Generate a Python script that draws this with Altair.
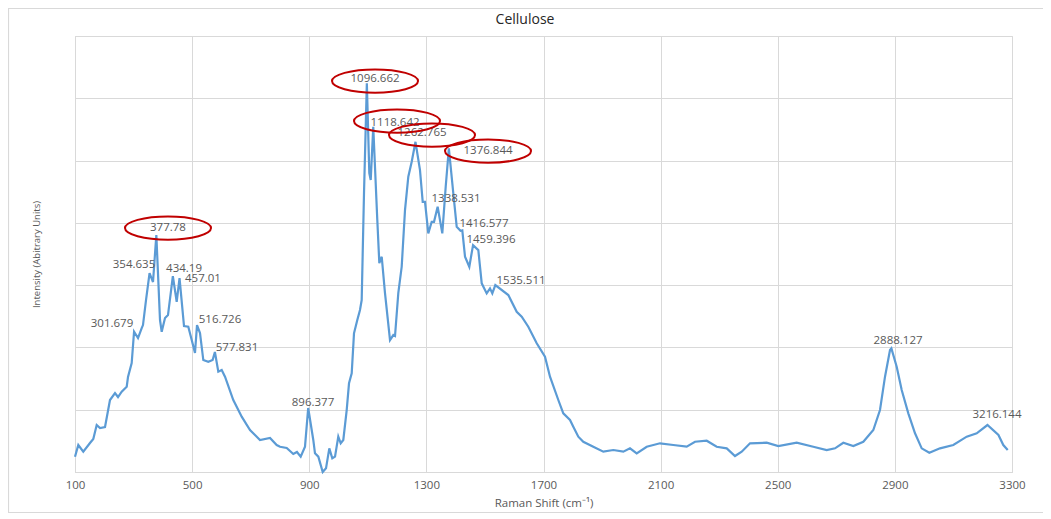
import altair as alt
import pandas as pd

# ---- spectrum ----
raman_shift = [100, 111.3, 128.3, 151.2, 162.5, 174.1, 185.4, 202.5, 219.5, 236.6, 246.9, 259.5,
               276.6, 281, 293.6, 301.7, 315.2, 327.8, 332.2, 342.5, 354.6, 366.4, 377.8, 390.3,
               396.1, 407.4, 417.6, 434.2, 447.3, 457.0, 472.3, 486.9, 498.6, 509.8, 516.7, 526.9,
               538.2, 555.2, 570, 577.8, 589.4, 601, 612.3, 640.6, 669.3, 697.7, 731.8, 766, 788.8,
               800.1, 823, 845.5, 858, 870.8, 885.5, 896.4, 913.8, 919.6, 931, 946, 957.2, 968.5,
               978.7, 988, 999.2, 1007.4, 1016.3, 1027.9, 1035.8, 1045, 1052.8, 1064.1, 1073.3,
               1079.1, 1087, 1096.7, 1105.1, 1109.9, 1118.6, 1132.4, 1139.3, 1147.5, 1158.7, 1175.8,
               1187.1, 1192.9, 1204.1, 1215.7, 1227, 1238.3, 1249.9, 1262.8, 1278.2, 1287.5, 1295.3,
               1306.6, 1318.2, 1326.1, 1338.5, 1354.4, 1366, 1376.8, 1392, 1403.6, 1416.6, 1422.7,
               1432, 1446.6, 1459.4, 1477.4, 1489, 1506, 1517.3, 1525.2, 1535.5, 1579.8, 1608.5,
               1625.6, 1648.1, 1676.8, 1705.1, 1722.2, 1750.6, 1767.6, 1790.5, 1801.8, 1818.9,
               1835.9, 1870.1, 1904.3, 1938.4, 1972.6, 1995.4, 2018.3, 2052.5, 2097.9, 2143.3,
               2189.1, 2217.4, 2257.4, 2291.5, 2325.7, 2354, 2376.9, 2405.3, 2462.3, 2501.9, 2564.7,
               2621.4, 2667.2, 2695.6, 2723.9, 2758.1, 2792.2, 2826.4, 2849.2, 2866.3, 2883.4,
               2888.1, 2906.2, 2923.3, 2945.9, 2968.8, 2991.6, 3017.6, 3054.1, 3099.6, 3145.3,
               3179.5, 3216.1, 3253.7, 3270.3, 3285.4]
intensity = [0.246, 0.433, 0.326, 0.465, 0.530, 0.754, 0.706, 0.722, 1.156, 1.268, 1.204, 1.289,
             1.369, 1.525, 1.749, 2.252, 2.151, 2.311, 2.359, 2.761, 3.194, 3.050, 3.804, 2.440,
             2.252, 2.472, 2.520, 3.146, 2.733, 3.114, 2.343, 2.332, 2.119, 1.910, 2.359, 2.231,
             1.798, 1.770, 1.798, 1.926, 1.610, 1.637, 1.530, 1.156, 0.888, 0.674, 0.514, 0.546,
             0.433, 0.406, 0.385, 0.289, 0.321, 0.246, 0.406, 1.027, 0.514, 0.300, 0.246, 0.0,
             0.059, 0.380, 0.220, 0.246, 0.567, 0.461, 0.514, 0.995, 1.424, 1.584, 2.226, 2.440,
             2.600, 2.761, 4.478, 6.239, 4.799, 4.687, 5.542, 4.045, 3.354, 3.456, 2.873, 2.119,
             2.199, 2.183, 2.873, 3.295, 4.205, 4.740, 4.980, 5.301, 4.847, 4.338, 4.338, 3.831,
             4.017, 4.017, 4.258, 3.831, 4.579, 5.195, 4.473, 3.937, 3.873, 3.879, 3.456, 3.295,
             3.643, 3.563, 3.029, 2.868, 2.948, 2.868, 3.001, 2.841, 2.573, 2.493, 2.332, 2.066,
             1.851, 1.530, 1.156, 0.942, 0.835, 0.727, 0.567, 0.486, 0.406, 0.326, 0.353, 0.326,
             0.380, 0.300, 0.406, 0.461, 0.433, 0.406, 0.486, 0.502, 0.406, 0.380, 0.257, 0.326,
             0.461, 0.470, 0.417, 0.470, 0.406, 0.353, 0.380, 0.470, 0.417, 0.486, 0.674, 0.995,
             1.530, 1.958, 1.985, 1.690, 1.316, 0.942, 0.621, 0.380, 0.310, 0.380, 0.433, 0.567,
             0.621, 0.754, 0.594, 0.433, 0.353]

# ---- peak labels ----
peak_labels = ["301.679", "354.635", "377.78", "434.19", "457.01", "516.726", "577.831",
               "896.377", "1096.662", "1118.642", "1262.765", "1376.844", "1338.531",
               "1416.577", "1459.396", "1535.511", "2888.127", "3216.144"]
label_x = [226.4, 301.5, 417.6, 472.3, 537.1, 595.2, 653.3, 912.8, 1124.6, 1192.9, 1285.1,
           1510.5, 1401.2, 1496.8, 1520.7, 1623.2, 2910.7, 3248.8]
label_y = [2.375, 3.322, 3.916, 3.258, 3.098, 2.440, 1.990, 1.107, 6.308, 5.601, 5.441,
           5.152, 4.382, 3.980, 3.724, 3.066, 2.103, 0.915]

# ---- circled peaks (ellipse centres) ----
circled_x = [417.6, 1124.6, 1199.7, 1319.2, 1510.5]
circled_y = [3.916, 6.276, 5.634, 5.409, 5.152]

x_ticks = [100, 500, 900, 1300, 1700, 2100, 2500, 2900, 3300]
y_grid = [0, 1, 2, 3, 4, 5, 6, 7]
chart_title = "Cellulose"

FONT = "Open Sans"
GREY = "#595959"
GRID = "#D9D9D9"

spec_df = pd.DataFrame({"shift": raman_shift, "intensity": intensity})
lab_df = pd.DataFrame({"shift": label_x, "intensity": label_y, "label": peak_labels})
ell_df = pd.DataFrame({"shift": circled_x, "intensity": circled_y})

xscale = alt.Scale(domain=[100, 3300], nice=False, zero=False)
yscale = alt.Scale(domain=[0, 7], nice=False, zero=True)

line = alt.Chart(spec_df).mark_line(color="#5B9BD5", strokeWidth=2.2).encode(
    x=alt.X("shift:Q", scale=xscale,
            axis=alt.Axis(values=x_ticks, format="d", title="Raman Shift (cm⁻¹)", grid=True,
                          gridColor=GRID, domain=True, domainColor=GRID, ticks=False,
                          labelPadding=7, labelFont=FONT, labelFontSize=11.5,
                          labelColor=GREY, titleFont=FONT, titleFontSize=11.5,
                          titleFontWeight="normal", titleColor=GREY, titlePadding=7,
                          labelFlush=False)),
    y=alt.Y("intensity:Q", scale=yscale,
            axis=alt.Axis(values=y_grid, title="Intensity (Abitrary Units)", grid=True,
                          gridColor=GRID, labels=False, ticks=False, domain=True,
                          domainColor=GRID, titleFont=FONT, titleFontSize=9.5,
                          titleFontWeight="normal", titleColor=GREY, titlePadding=34)),
)

labels = alt.Chart(lab_df).mark_text(font=FONT, fontSize=11.5, color=GREY,
                                     align="center", baseline="middle").encode(
    x=alt.X("shift:Q", scale=xscale),
    y=alt.Y("intensity:Q", scale=yscale),
    text="label:N",
)

ellipse_path = "M -1 0 A 1 0.27 0 1 1 1 0 A 1 0.27 0 1 1 -1 0 Z"
ellipses = alt.Chart(ell_df).mark_point(shape=ellipse_path, size=7400, filled=False,
                                        stroke="#C00000", strokeWidth=2, opacity=1).encode(
    x=alt.X("shift:Q", scale=xscale),
    y=alt.Y("intensity:Q", scale=yscale),
)

title = alt.Chart(pd.DataFrame({"t": [chart_title]})).mark_text(
    font=FONT, fontSize=14, color="#262626", align="center", baseline="middle").encode(
    x=alt.value(450), y=alt.value(-16), text="t:N")

frame = alt.Chart(pd.DataFrame({"a": [0]})).mark_rect(
    fill=None, stroke=GRID, strokeWidth=1.2).encode(
    x=alt.value(-66.5), x2=alt.value(1000), y=alt.value(-27.5), y2=alt.value(476.5))

chart = alt.layer(frame, line, labels, ellipses, title).properties(
    width=937, height=436,
    autosize=alt.AutoSizeParams(type="none"),
    padding={"left": 67, "top": 28, "right": 31, "bottom": 45},
).configure_view(stroke=None).configure(background="white")

chart.save("out.html", embed_options={"renderer": "svg", "actions": False})
